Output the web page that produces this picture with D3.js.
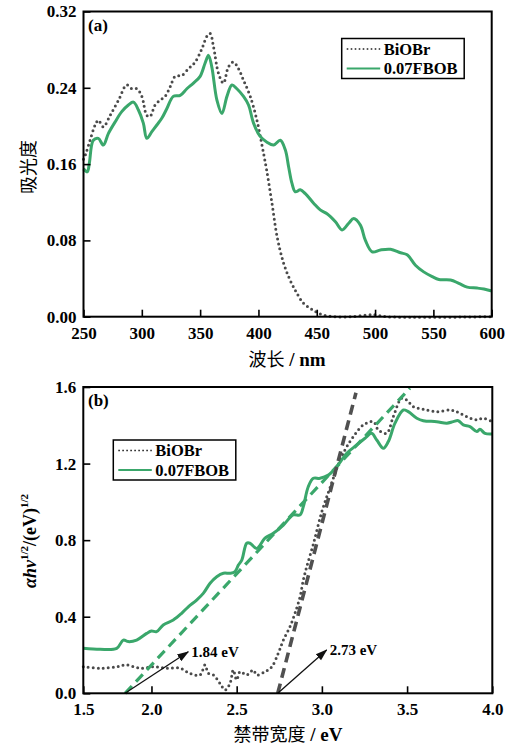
<!DOCTYPE html>
<html>
<head>
<meta charset="utf-8">
<script src="https://cdn.jsdelivr.net/npm/d3@7"></script>
<style>
  body { margin: 0; background: #fff; }
  text { font-family: "Liberation Serif", "Times New Roman", serif; }
</style>
</head>
<body>
<script>
// panel (a): UV-vis absorbance
var bioWl  = [250, 252, 255.6, 260, 262.7, 267, 272.8, 280, 287, 291.4, 295.7, 300, 304.3, 307, 311.4, 315.7, 320, 324.3, 328.6, 334.3, 340, 345.7, 351.5, 355.8, 358.6, 361.5, 365.8, 370, 374.3, 378.6, 382.9, 387.2, 393, 398.7, 403, 407, 411.6, 416, 421.6, 427.3, 433, 438.7, 444.5, 453, 464.5, 480, 495, 500, 510, 600];
var bioAbs = [0.165, 0.171, 0.185, 0.201, 0.206, 0.199, 0.211, 0.227, 0.243, 0.239, 0.239, 0.231, 0.211, 0.210, 0.222, 0.227, 0.231, 0.241, 0.252, 0.253, 0.260, 0.267, 0.281, 0.294, 0.297, 0.283, 0.255, 0.245, 0.262, 0.267, 0.260, 0.248, 0.231, 0.206, 0.180, 0.154, 0.119, 0.084, 0.056, 0.038, 0.0245, 0.014, 0.0088, 0.0028, 0, 0, 0.002, 0.002, 0, 0];
var fbWl  = [250, 253.3, 255, 258.4, 262.7, 267, 271.3, 277, 282.8, 288.5, 292.8, 297, 301.3, 304.3, 308.6, 312.9, 317.1, 321.4, 327, 332.9, 338.6, 344.3, 350, 354.3, 357.2, 360, 364.4, 368.7, 373, 377.3, 381.5, 387.2, 391.5, 395.8, 401.5, 407.3, 413, 418.7, 423, 425.9, 428.7, 431.6, 435.9, 440.2, 447.3, 453, 458.8, 466, 471.7, 477.4, 481.7, 487.4, 491.7, 497.5, 504.6, 513.2, 521.8, 527.5, 534.6, 541.7, 549, 554.7, 564.7, 571.8, 579, 587.6, 593.3, 600];
var fbAbs = [0.155, 0.152, 0.161, 0.185, 0.187, 0.180, 0.192, 0.204, 0.215, 0.222, 0.225, 0.217, 0.203, 0.187, 0.194, 0.201, 0.208, 0.218, 0.231, 0.232, 0.239, 0.245, 0.252, 0.266, 0.274, 0.262, 0.227, 0.213, 0.231, 0.243, 0.239, 0.231, 0.222, 0.203, 0.189, 0.183, 0.180, 0.185, 0.175, 0.157, 0.140, 0.131, 0.133, 0.129, 0.119, 0.112, 0.108, 0.0996, 0.091, 0.098, 0.103, 0.096, 0.080, 0.068, 0.070, 0.0707, 0.067, 0.065, 0.054, 0.047, 0.042, 0.039, 0.0385, 0.035, 0.031, 0.030, 0.029, 0.027];
var xTicksA = [250, 300, 350, 400, 450, 500, 550, 600];
var yTicksA = [0, 0.08, 0.16, 0.24, 0.32];

// panel (b): Tauc plot
var bioE = [1.6, 1.698, 1.796, 1.855, 1.933, 2.011, 2.089, 2.168, 2.226, 2.285, 2.314, 2.334, 2.363, 2.402, 2.432, 2.461, 2.48, 2.5, 2.52, 2.559, 2.598, 2.617, 2.666, 2.706, 2.744, 2.774, 2.813, 2.842, 2.872, 2.891, 2.911, 2.95, 3.0, 3.05, 3.107, 3.146, 3.185, 3.243, 3.302, 3.331, 3.38, 3.419, 3.468, 3.498, 3.537, 3.595, 3.674, 3.752, 3.791, 3.85, 3.909, 3.948, 4.0];
var bioF = [0.139, 0.131, 0.139, 0.148, 0.131, 0.139, 0.131, 0.131, 0.104, 0.096, 0.148, 0.104, 0.096, 0.052, 0.017, 0.052, 0.122, 0.070, 0.113, 0.096, 0.122, 0.096, 0.113, 0.139, 0.209, 0.278, 0.348, 0.418, 0.505, 0.592, 0.661, 0.78, 0.95, 1.08, 1.219, 1.288, 1.341, 1.402, 1.419, 1.376, 1.358, 1.445, 1.541, 1.532, 1.497, 1.484, 1.471, 1.48, 1.471, 1.445, 1.428, 1.437, 1.419];
var fbE = [1.6, 1.698, 1.796, 1.835, 1.864, 1.913, 1.972, 2.0, 2.03, 2.069, 2.128, 2.177, 2.216, 2.265, 2.304, 2.344, 2.383, 2.422, 2.461, 2.49, 2.51, 2.53, 2.559, 2.578, 2.617, 2.666, 2.715, 2.774, 2.832, 2.872, 2.891, 2.92, 2.95, 2.989, 3.038, 3.087, 3.146, 3.204, 3.253, 3.292, 3.322, 3.361, 3.39, 3.429, 3.478, 3.507, 3.557, 3.595, 3.674, 3.733, 3.771, 3.8, 3.83, 3.869, 3.909, 3.927, 3.957, 4.0];
var fbF = [0.235, 0.23, 0.235, 0.278, 0.27, 0.278, 0.313, 0.325, 0.322, 0.357, 0.383, 0.418, 0.452, 0.487, 0.522, 0.575, 0.609, 0.627, 0.627, 0.635, 0.670, 0.696, 0.784, 0.784, 0.757, 0.810, 0.836, 0.879, 0.932, 0.932, 0.975, 1.079, 1.123, 1.123, 1.14, 1.184, 1.254, 1.297, 1.332, 1.358, 1.323, 1.280, 1.315, 1.411, 1.48, 1.471, 1.437, 1.424, 1.419, 1.411, 1.419, 1.424, 1.402, 1.393, 1.367, 1.379, 1.358, 1.355];
var fitBioE = [2.741, 3.20], fitBioF = [0, 1.57];
var fitFbE = [1.845, 3.517], fitFbF = [0, 1.594];
var gaps = ["1.84 eV", "2.73 eV"];
var xTicksB = [1.6, 2.0, 2.5, 3.0, 3.5, 4.0];
var xLabelsB = ["1.5", "2.0", "2.5", "3.0", "3.5", "4.0"];
var yTicksB = [0, 0.4, 0.8, 1.2, 1.6];
var names = ["BiOBr", "0.07FBOB"];

var green = "#3aa76b", grey = "#4a4a4a";

var svg = d3.select("body").append("svg")
    .attr("width", 514).attr("height", 749);

svg.append("defs").append("marker")
    .attr("id", "arr").attr("markerUnits", "userSpaceOnUse")
    .attr("viewBox", "0 -5 12 10").attr("refX", 11).attr("refY", 0)
    .attr("markerWidth", 12).attr("markerHeight", 10).attr("orient", "auto")
  .append("path").attr("d", "M0,-4L12,0L0,4Z").attr("fill", "#111");

function axes(x, y, xt, yt, xfmt, yfmt, box) {
  var g = svg.append("g");
  g.append("g").attr("transform", "translate(0," + box.b + ")")
    .call(d3.axisBottom(x).tickValues(xt).tickSize(-7).tickPadding(10).tickFormat(xfmt));
  g.append("g").attr("transform", "translate(" + box.l + ",0)")
    .call(d3.axisLeft(y).tickValues(yt).tickSize(-7).tickPadding(7).tickFormat(yfmt));
  g.selectAll(".domain").remove();
  g.selectAll(".tick line").attr("stroke", "#000").attr("stroke-width", 1.6);
  g.selectAll(".tick text").attr("font-size", 17).attr("font-weight", "bold")
    .attr("font-family", "Liberation Serif").attr("fill", "#000");
  svg.append("rect").attr("x", box.l).attr("y", box.t)
    .attr("width", box.r - box.l).attr("height", box.b - box.t)
    .attr("fill", "none").attr("stroke", "#000").attr("stroke-width", 2);
}

function legend(x0, y0) {
  svg.append("rect").attr("x", x0).attr("y", y0).attr("width", 122.5).attr("height", 40)
    .attr("fill", "#fff").attr("stroke", "#000").attr("stroke-width", 1.5);
  [0, 1].forEach(function(i) {
    var yy = y0 + 10.5 + i * 19.5;
    svg.append("line").attr("x1", x0 + 5).attr("x2", x0 + 38.5).attr("y1", yy).attr("y2", yy)
      .attr("stroke", i ? green : "#222").attr("stroke-width", i ? 2 : 1.6)
      .attr("stroke-dasharray", i ? null : "1.6 2.4");
    svg.append("text").attr("x", x0 + 42).attr("y", yy + 5.5)
      .attr("font-size", 16.5).attr("font-weight", "bold").text(names[i]);
  });
}

// ---------- (a) ----------
var boxA = {l: 83.5, r: 491.7, t: 11.5, b: 316.7};
var xa = d3.scaleLinear().domain([250, 600]).range([boxA.l, boxA.r]);
var ya = d3.scaleLinear().domain([0, 0.32]).range([boxA.b, boxA.t]);

var lineA = d3.line().x(function(d) { return xa(d[0]); }).y(function(d) { return ya(d[1]); })
    .curve(d3.curveCatmullRom.alpha(0.5));

svg.append("path").attr("d", lineA(d3.zip(bioWl, bioAbs)))
  .attr("fill", "none").attr("stroke", grey).attr("stroke-width", 3)
  .attr("stroke-linecap", "round").attr("stroke-dasharray", "0 5");
svg.append("path").attr("d", lineA(d3.zip(fbWl, fbAbs)))
  .attr("fill", "none").attr("stroke", green).attr("stroke-width", 3);

axes(xa, ya, xTicksA, yTicksA, d3.format("d"), d3.format(".2f"), boxA);
legend(341.7, 38.5);

svg.append("text").attr("x", 88).attr("y", 31).attr("font-size", 17)
  .attr("font-weight", "bold").text("(a)");
svg.append("text").attr("transform", "translate(35,167) rotate(-90)")
  .attr("text-anchor", "middle").attr("font-size", 18)
  .style("font-family", "'Noto Sans CJK SC'").text("吸光度");
svg.append("text").attr("x", 287).attr("y", 366).attr("text-anchor", "middle")
  .attr("font-size", 18)
  .call(function(t) {
    t.append("tspan").style("font-family", "'Noto Sans CJK SC'").text("波长");
    t.append("tspan").attr("font-weight", "bold").attr("font-size", 19).text(" / nm");
  });

// ---------- (b) ----------
var boxB = {l: 83.3, r: 492.3, t: 387, b: 693.3};
var xb = d3.scaleLinear().domain([1.6, 4.0]).range([boxB.l, boxB.r]);
var yb = d3.scaleLinear().domain([0, 1.6]).range([boxB.b, boxB.t]);

var lineB = d3.line().x(function(d) { return xb(d[0]); }).y(function(d) { return yb(d[1]); })
    .curve(d3.curveCatmullRom.alpha(0.5));

svg.append("path").attr("d", lineB(d3.zip(bioE, bioF)))
  .attr("fill", "none").attr("stroke", grey).attr("stroke-width", 3)
  .attr("stroke-linecap", "round").attr("stroke-dasharray", "0 5");
svg.append("path").attr("d", lineB(d3.zip(fbE, fbF)))
  .attr("fill", "none").attr("stroke", green).attr("stroke-width", 3);

var fitLine = d3.line().x(function(d) { return xb(d[0]); }).y(function(d) { return yb(d[1]); });
svg.append("path").attr("d", fitLine(d3.zip(fitFbE, fitFbF)))
  .attr("fill", "none").attr("stroke", green).attr("stroke-width", 3.2)
  .attr("stroke-dasharray", "10 6");
svg.append("path").attr("d", fitLine(d3.zip(fitBioE, fitBioF)))
  .attr("fill", "none").attr("stroke", "#505050").attr("stroke-width", 3.6)
  .attr("stroke-dasharray", "10 6");

// arrows to band gap values
var tips = [[2.216, 0.217], [3.028, 0.226]];
[fitFbE[0], fitBioE[0]].forEach(function(e0, i) {
  svg.append("line").attr("x1", xb(e0)).attr("y1", yb(0))
    .attr("x2", xb(tips[i][0])).attr("y2", yb(tips[i][1]))
    .attr("stroke", "#111").attr("stroke-width", 1.3).attr("marker-end", "url(#arr)");
  svg.append("text").attr("x", xb(tips[i][0]) + 3).attr("y", yb(tips[i][1]) + 5)
    .attr("font-size", 15).attr("font-weight", "bold").text(gaps[i]);
});

axes(xb, yb, xTicksB, yTicksB, function(d, i) { return xLabelsB[i]; }, d3.format(".1f"), boxB);
legend(113.3, 440);

svg.append("text").attr("x", 88).attr("y", 406).attr("font-size", 17)
  .attr("font-weight", "bold").text("(b)");
svg.append("text").attr("transform", "translate(36,541) rotate(-90)")
  .attr("text-anchor", "middle").attr("font-size", 18).attr("font-weight", "bold")
  .call(function(t) {
    t.append("tspan").attr("font-style", "italic").text("αhv");
    t.append("tspan").attr("font-size", 11).attr("dy", -8).text("1/2");
    t.append("tspan").attr("dy", 8).text("/(eV)");
    t.append("tspan").attr("font-size", 11).attr("dy", -8).text("1/2");
  });
svg.append("text").attr("x", 288).attr("y", 741).attr("text-anchor", "middle")
  .attr("font-size", 18)
  .call(function(t) {
    t.append("tspan").style("font-family", "'Noto Sans CJK SC'").text("禁带宽度");
    t.append("tspan").attr("font-weight", "bold").attr("font-size", 19).text(" / eV");
  });
</script>
</body>
</html>
